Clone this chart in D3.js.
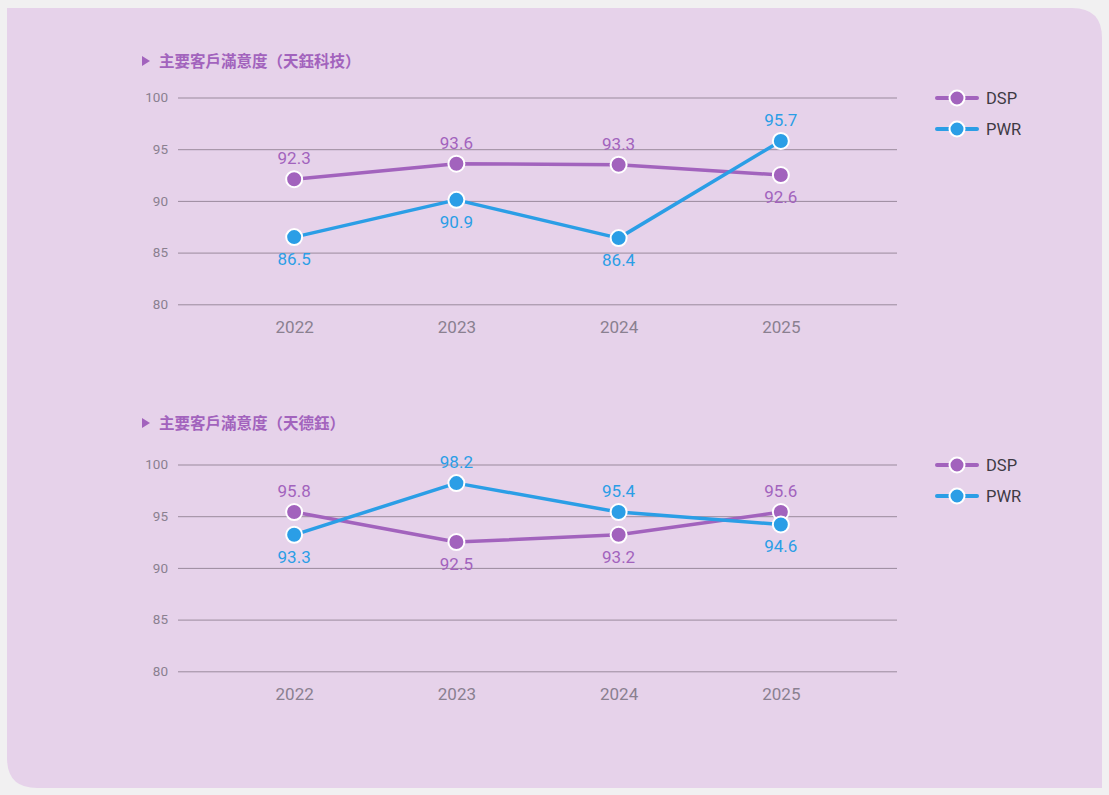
<!DOCTYPE html>
<html>
<head>
<meta charset="utf-8">
<script src="https://cdn.jsdelivr.net/npm/d3@7/dist/d3.min.js"></script>
<style>
  html, body { margin: 0; padding: 0; background: #f1f0f1; }
  svg { display: block; }
</style>
</head>
<body>
<svg id="chart" width="1109" height="795"></svg>
<script>
// ---- data ----
const years = ["2022", "2023", "2024", "2025"];
const yTicks = [80, 85, 90, 95, 100];
const seriesNames = ["DSP", "PWR"];

const titles = ["主要客戶滿意度（天鈺科技）", "主要客戶滿意度（天德鈺）"];

// chart 1 (天鈺科技)
const c1DSP = [92.1, 93.6, 93.5, 92.5];
const c1PWR = [86.5, 90.1, 86.4, 95.8];
const c1DSPLabels = ["92.3", "93.6", "93.3", "92.6"];
const c1PWRLabels = ["86.5", "90.9", "86.4", "95.7"];

// chart 2 (天德鈺)
const c2DSP = [95.4, 92.5, 93.2, 95.4];
const c2PWR = [93.2, 98.2, 95.4, 94.2];
const c2DSPLabels = ["95.8", "92.5", "93.2", "95.6"];
const c2PWRLabels = ["93.3", "98.2", "95.4", "94.6"];

const colors = { DSP: "#a263bd", PWR: "#2b9ee6" };

// ---- drawing ----
const svg = d3.select("#chart");

// panel background with rounded top-right and bottom-left corners
const px0 = 7, py0 = 8, px1 = 1102, py1 = 788, r = 30;
svg.append("path")
  .attr("d", `M${px0},${py0} H${px1 - r} Q${px1},${py0} ${px1},${py0 + r} V${py1} H${px0 + r} Q${px0},${py1} ${px0},${py1 - r} Z`)
  .attr("fill", "#e6d2ea");

const panels = [
  { top: 0, titleY: 61, title: titles[0], dsp: c1DSP, pwr: c1PWR, dspL: c1DSPLabels, pwrL: c1PWRLabels },
  { top: 367, titleY: 423, title: titles[1], dsp: c2DSP, pwr: c2PWR, dspL: c2DSPLabels, pwrL: c2PWRLabels }
];

panels.forEach(p => {
  // title (absolute position)
  svg.append("path")
    .attr("d", `M142,${p.titleY - 5} L150,${p.titleY} L142,${p.titleY + 5} Z`)
    .attr("fill", "#a263bd");
  svg.append("text")
    .attr("x", 159).attr("y", p.titleY).attr("dy", "0.36em")
    .attr("font-family", "'Noto Sans CJK TC', 'Noto Sans CJK SC', sans-serif")
    .attr("font-weight", "bold")
    .attr("font-size", 15.5)
    .attr("fill", "#a263bd")
    .text(p.title);

  const g = svg.append("g").attr("transform", `translate(0,${p.top})`);

  const x = d3.scalePoint().domain(years).range([178, 897]).padding(0.716);
  const y = d3.scaleLinear().domain([80, 100]).range([304.3, 97.5]);

  // gridlines + y tick labels
  const yAxis = d3.axisLeft(y).tickValues(yTicks).tickSize(-(897 - 178)).tickPadding(10);
  const ya = g.append("g").attr("transform", "translate(178,0)").call(yAxis);
  ya.select(".domain").remove();
  ya.selectAll(".tick line").attr("stroke", "#9a8a9d").attr("stroke-width", 1);
  ya.selectAll(".tick text")
    .attr("font-family", "Roboto, sans-serif")
    .attr("font-size", 13.5)
    .attr("fill", "#8a8090");

  // x tick labels
  const xAxis = d3.axisBottom(x).tickSize(0).tickPadding(0);
  const xa = g.append("g").attr("transform", "translate(0,327)").call(xAxis);
  xa.select(".domain").remove();
  xa.selectAll(".tick text")
    .attr("font-family", "Roboto, sans-serif")
    .attr("font-size", 17)
    .attr("fill", "#8a8090")
    .attr("dy", "0.35em");

  const series = [
    { name: "DSP", vals: p.dsp, labels: p.dspL, other: p.pwr },
    { name: "PWR", vals: p.pwr, labels: p.pwrL, other: p.dsp }
  ];

  const line = d3.line().x((d, i) => x(years[i])).y(d => y(d));

  series.forEach(s => {
    g.append("path")
      .datum(s.vals)
      .attr("d", line)
      .attr("fill", "none")
      .attr("stroke", colors[s.name])
      .attr("stroke-width", 3.5)
      .attr("stroke-linejoin", "round");
  });

  series.forEach(s => {
    g.selectAll(null)
      .data(s.vals)
      .enter().append("circle")
      .attr("cx", (d, i) => x(years[i]))
      .attr("cy", d => y(d))
      .attr("r", 8)
      .attr("fill", colors[s.name])
      .attr("stroke", "#ffffff")
      .attr("stroke-width", 2);
  });

  series.forEach(s => {
    g.selectAll(null)
      .data(s.vals)
      .enter().append("text")
      .attr("x", (d, i) => x(years[i]))
      .attr("y", (d, i) => y(d) + (d >= s.other[i] ? -21 : 22))
      .attr("dy", "0.35em")
      .attr("text-anchor", "middle")
      .attr("font-family", "Roboto, sans-serif")
      .attr("font-size", 17)
      .attr("fill", colors[s.name])
      .text((d, i) => s.labels[i]);
  });

  // legend
  seriesNames.forEach((n, i) => {
    const ly = 98 + i * 31;
    const lg = g.append("g");
    lg.append("line")
      .attr("x1", 937).attr("x2", 977)
      .attr("y1", ly).attr("y2", ly)
      .attr("stroke", colors[n]).attr("stroke-width", 4).attr("stroke-linecap", "round");
    lg.append("circle")
      .attr("cx", 957).attr("cy", ly).attr("r", 7.5)
      .attr("fill", colors[n]).attr("stroke", "#ffffff").attr("stroke-width", 2);
    lg.append("text")
      .attr("x", 986).attr("y", ly).attr("dy", "0.35em")
      .attr("font-family", "Roboto, sans-serif")
      .attr("font-size", 16.5)
      .attr("fill", "#3e3a44")
      .text(n);
  });
});
</script>
</body>
</html>
